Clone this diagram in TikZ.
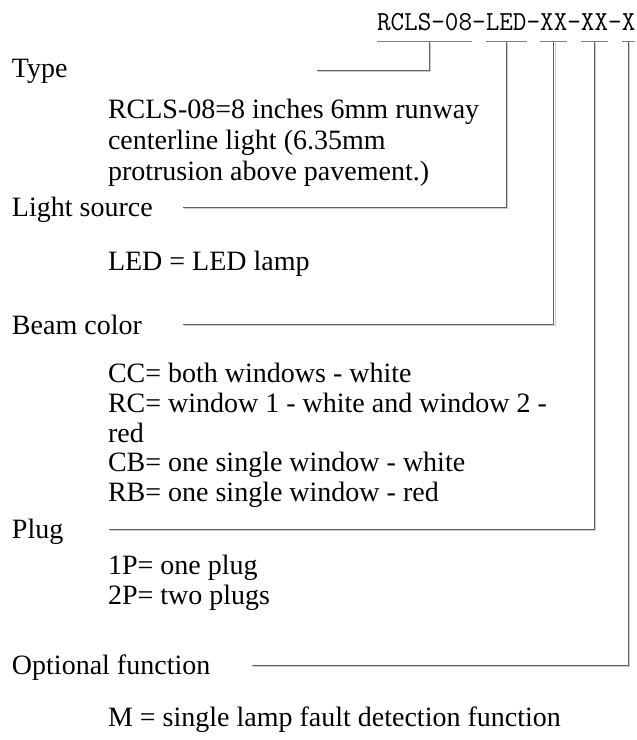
\documentclass[tikz,border=0pt]{standalone}
\usepackage{fontspec}
\usepackage{graphicx}
\setmainfont{Liberation Serif}
\newcommand\hdrtxt[1]{\scalebox{0.978}[1.02]{#1}}
\begin{document}
\begin{tikzpicture}[x=1pt,y=-1pt,
  lbl/.style={anchor=base west, inner sep=0pt, outer sep=0pt, font=\fontsize{28}{30}\selectfont},
  hdr/.style={anchor=base west, inner sep=0pt, outer sep=0pt, font=\ttfamily\fontsize{27}{27}\selectfont},
  ln/.style={draw=black!62, line width=0.9pt,
    preaction={draw=black!20, line width=0.9pt, transform canvas={shift={(1.3pt,-1.3pt)}}}},
  uline/.style={draw=black!50, line width=0.7pt}]
\fill[white] (0,0) rectangle (637,740);
\useasboundingbox (0,0) rectangle (637,740);

% header code
\node[hdr] (hA) at (377,30) {\hdrtxt{RCLS-08}};
\node[hdr] (s1) at (hA.base east) {\hdrtxt{-}};
\node[hdr] (hB) at (s1.base east) {\hdrtxt{LED}};
\node[hdr] (s2) at (hB.base east) {\hdrtxt{-}};
\node[hdr] (hC) at (s2.base east) {\hdrtxt{XX}};
\node[hdr] (s3) at (hC.base east) {\hdrtxt{-}};
\node[hdr] (hD) at (s3.base east) {\hdrtxt{XX}};
\node[hdr] (s4) at (hD.base east) {\hdrtxt{-}};
\node[hdr] (hE) at (s4.base east) {\hdrtxt{X}};

\coordinate (ul) at (0,41.5);
\foreach \s in {hA,hB,hC,hD,hE}
  \draw[uline] (\s.base west |- ul) -- (\s.base east |- ul);

% labels
\node[lbl] (lType) at (12,77) {Type};
\node[lbl] (tA1) at (108,118) {RCLS-08=8 inches 6mm runway};
\node[lbl] (tA2) at (108,149) {centerline light (6.35mm};
\node[lbl] (tA3) at (108,180) {protrusion above pavement.)};

\node[lbl] (lLight) at (12,216) {Light source};
\node[lbl] (tB1) at (108,270) {LED = LED lamp};

\node[lbl] (lBeam) at (12,334) {Beam color};
\node[lbl] (tC1) at (108,382) {CC= both windows - white};
\node[lbl] (tC2) at (108,412) {RC= window 1 - white and window 2 -};
\node[lbl] (tC3) at (108,442) {red};
\node[lbl] (tC4) at (108,471) {CB= one single window - white};
\node[lbl] (tC5) at (108,501) {RB= one single window - red};

\node[lbl] (lPlug) at (12,538) {Plug};
\node[lbl] (tD1) at (108,574) {1P= one plug};
\node[lbl] (tD2) at (108,604) {2P= two plugs};

\node[lbl] (lOpt) at (12,674) {Optional function};
\node[lbl] (tE1) at (108,726) {M = single lamp fault detection function};

% free ends of the leader lines
\coordinate (eA) at (317,70);
\coordinate (eB) at (183,207);
\coordinate (eC) at (183,324);
\coordinate (eD) at (109,529);
\coordinate (eE) at (252,665);

% leaders
\draw[ln] ([xshift=5pt]hA.base |- ul) |- (eA);
\draw[ln] (hB.base |- ul) |- (eB);
\draw[ln] (hC.base |- ul) |- (eC);
\draw[ln] (hD.base |- ul) |- (eD);
\draw[ln] (hE.base |- ul) |- (eE);
\end{tikzpicture}
\end{document}
